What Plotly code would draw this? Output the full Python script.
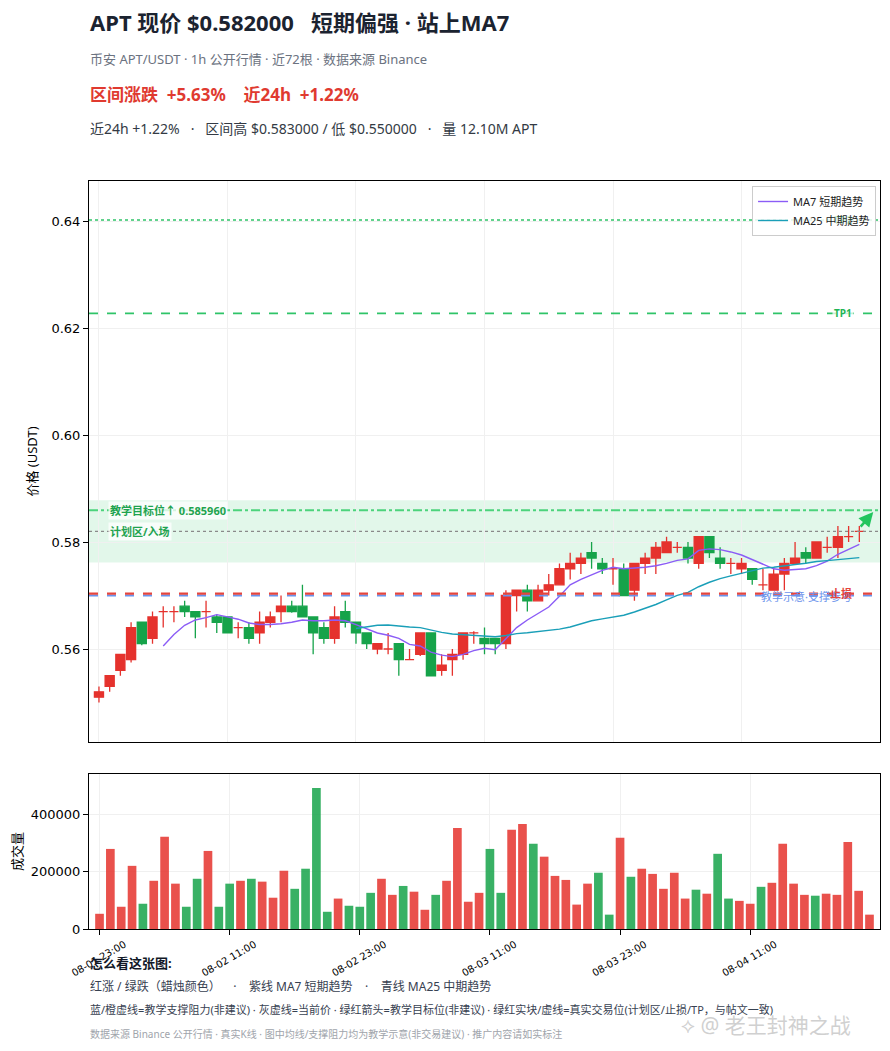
"""
APT/USDT 1h K线 + 成交量 (Plotly 复刻)
"""

import pandas as pd
import plotly.graph_objects as go

# ---- data (USDT) ----
start_time = "2025-08-01 23:00"

open_ = [0.551, 0.553, 0.556, 0.558, 0.565, 0.562, 0.567, 0.567, 0.568, 0.567,
         0.567, 0.566, 0.566, 0.564, 0.564, 0.563, 0.565, 0.567, 0.568, 0.568,
         0.566, 0.564, 0.562, 0.567, 0.565, 0.563, 0.560, 0.560, 0.561, 0.558,
         0.559, 0.563, 0.556, 0.558, 0.559, 0.563, 0.562, 0.562, 0.561, 0.570,
         0.571, 0.569, 0.571, 0.572, 0.575, 0.576, 0.578, 0.576, 0.575, 0.575,
         0.571, 0.576, 0.577, 0.578, 0.579, 0.579, 0.576, 0.581, 0.577, 0.576,
         0.575, 0.575, 0.572, 0.571, 0.574, 0.576, 0.578, 0.577, 0.579, 0.579,
         0.581, 0.582]

high_ = [0.553, 0.555, 0.559, 0.565, 0.565, 0.567, 0.568, 0.568, 0.569, 0.567,
         0.569, 0.5665, 0.566, 0.565, 0.565, 0.567, 0.567, 0.570, 0.569, 0.572,
         0.566, 0.565, 0.568, 0.569, 0.565, 0.563, 0.561, 0.563, 0.561, 0.560,
         0.563, 0.563, 0.559, 0.560, 0.563, 0.5633, 0.564, 0.562, 0.571, 0.571,
         0.572, 0.572, 0.574, 0.576, 0.578, 0.578, 0.580, 0.577, 0.577, 0.576,
         0.576, 0.578, 0.580, 0.581, 0.580, 0.580, 0.581, 0.581, 0.579, 0.577,
         0.577, 0.575, 0.575, 0.575, 0.577, 0.580, 0.579, 0.580, 0.581, 0.583,
         0.583, 0.583]

low_ = [0.550, 0.552, 0.555, 0.5575, 0.5607, 0.561, 0.564, 0.565, 0.566, 0.562,
        0.564, 0.563, 0.563, 0.562, 0.561, 0.561, 0.564, 0.565, 0.5668, 0.566,
        0.559, 0.561, 0.561, 0.564, 0.561, 0.560, 0.559, 0.559, 0.555, 0.558,
        0.5587, 0.555, 0.555, 0.555, 0.558, 0.561, 0.559, 0.559, 0.560, 0.567,
        0.567, 0.569, 0.570, 0.572, 0.573, 0.574, 0.575, 0.574, 0.572, 0.570,
        0.569, 0.574, 0.574, 0.578, 0.578, 0.576, 0.575, 0.577, 0.575, 0.574,
        0.574, 0.572, 0.571, 0.571, 0.571, 0.576, 0.576, 0.577, 0.578, 0.577,
        0.580, 0.580]

close_ = [0.552, 0.555, 0.559, 0.564, 0.561, 0.566, 0.567, 0.567, 0.567, 0.566,
          0.567, 0.565, 0.563, 0.564, 0.562, 0.565, 0.566, 0.568, 0.567, 0.566,
          0.563, 0.562, 0.566, 0.565, 0.563, 0.561, 0.561, 0.560, 0.558, 0.558,
          0.563, 0.555, 0.557, 0.559, 0.563, 0.563, 0.561, 0.561, 0.570, 0.571,
          0.569, 0.571, 0.572, 0.575, 0.576, 0.577, 0.577, 0.575, 0.575, 0.570,
          0.576, 0.577, 0.579, 0.580, 0.579, 0.577, 0.581, 0.578, 0.576, 0.576,
          0.576, 0.573, 0.572, 0.574, 0.576, 0.577, 0.577, 0.580, 0.579, 0.581,
          0.581, 0.582]

volume_ = [53000, 279000, 77500, 220000, 88000, 168000, 321000, 158000, 77500, 175000,
           272000, 77500, 158000, 168000, 175000, 165000, 109000, 203000, 140000, 210000,
           491000, 60000, 106000, 81000, 77500, 126000, 175000, 119000, 150000, 130000,
           67000, 119000, 168000, 352000, 95000, 126000, 279000, 126000, 346000, 366000,
           297000, 252000, 185000, 171000, 85000, 158000, 196000, 50000, 318000, 182000,
           210000, 192000, 140000, 196000, 106000, 137000, 123000, 262000, 106000, 98000,
           88000, 147000, 161000, 297000, 158000, 119000, 116000, 123000, 119000, 303000,
           133000, 50000]

# 价位 (计划区 ±1%, 止损 -2%, TP +7% / +10%)
price_now = 0.582
target_price = 0.585960
support_price = 0.5700
stop_price = 0.57036
zone_low, zone_high = 0.57618, 0.58782
tp1_price, tp2_price = 0.62274, 0.6402

price_ticks = [0.56, 0.58, 0.60, 0.62, 0.64]
volume_ticks = [0, 200000, 400000]

# ---- style ----
RED = "#e5322d"
GREEN = "#16a34a"
VOL_RED = "rgba(229,50,45,0.85)"
VOL_GREEN = "rgba(22,163,74,0.85)"
MA7_COLOR = "#8b5cf6"
MA25_COLOR = "#1a9fb8"
LINE_GREEN = "#2fc468"
CJK = "Noto Sans, Noto Sans CJK SC"
NUM = "DejaVu Sans"

df = pd.DataFrame({"open": open_, "high": high_, "low": low_,
                   "close": close_, "volume": volume_})
df["time"] = pd.date_range(start_time, periods=len(df), freq="h")
df["ma7"] = df["close"].rolling(7).mean()
df["ma25"] = df["close"].rolling(25).mean()
up = df[df["close"] >= df["open"]]
down = df[df["close"] < df["open"]]

tick_times = df["time"].iloc[::12]
tick_labels = [t.strftime("%m-%d %H:%M") for t in tick_times]

t0 = df["time"].iloc[0]
hour = pd.Timedelta(hours=1)
price_xrange = [t0 - 0.93 * hour, t0 + 72.93 * hour]
vol_xrange = [t0 - 0.97 * hour, t0 + 71.97 * hour]

# page geometry helpers (plot area on the page: x 89..880, y 181..929 px)
def py(y):
    return (929 - y) / 748


def px_(x):
    return (x - 89) / 791


fig = go.Figure()

# candles: red = up, green = down
for part, col in [(up, RED), (down, GREEN)]:
    fig.add_trace(go.Candlestick(
        x=part["time"], open=part["open"], high=part["high"],
        low=part["low"], close=part["close"],
        increasing=dict(line=dict(color=col, width=1.3), fillcolor=col),
        decreasing=dict(line=dict(color=col, width=1.3), fillcolor=col),
        whiskerwidth=0, showlegend=False, xaxis="x", yaxis="y",
    ))

fig.add_trace(go.Scatter(x=df["time"], y=df["ma7"], mode="lines",
                         line=dict(color=MA7_COLOR, width=1.4),
                         name="MA7 短期趋势", xaxis="x", yaxis="y"))
fig.add_trace(go.Scatter(x=df["time"], y=df["ma25"], mode="lines",
                         line=dict(color=MA25_COLOR, width=1.4),
                         name="MA25 中期趋势", xaxis="x", yaxis="y"))

vol_colors = [VOL_RED if c >= o else VOL_GREEN for o, c in zip(df["open"], df["close"])]
fig.add_trace(go.Bar(x=df["time"], y=df["volume"], marker=dict(color=vol_colors, line=dict(width=0)),
                     width=0.8 * 3600 * 1000, showlegend=False, xaxis="x2", yaxis="y2"))

# ---- levels ----
def hline(y, color, dash, width):
    fig.add_shape(type="line", xref="x domain", yref="y", x0=0, x1=1, y0=y, y1=y,
                  line=dict(color=color, dash=dash, width=width))


fig.add_shape(type="rect", xref="x domain", yref="y", x0=0, x1=1,
              y0=zone_low, y1=zone_high, fillcolor="rgba(34,197,94,0.13)",
              line=dict(width=0), layer="below")
hline(tp2_price, LINE_GREEN, "dot", 1.4)
hline(tp1_price, LINE_GREEN, "dash", 1.6)
hline(target_price, "#4cd37c", "dashdot", 2)
hline(price_now, "#8a8a8a", "dot", 1.2)
hline(support_price, "#6b93ec", "dash", 2.2)
hline(stop_price, "#e5453d", "dash", 2.2)

annotations = []


def label(x, y, text, color, xanchor="left", size=11, bold=True, bg="rgba(255,255,255,0.75)"):
    annotations.append(dict(
        xref="x domain", yref="y", x=x, y=y, text=f"<b>{text}</b>" if bold else text,
        showarrow=False, xanchor=xanchor, yanchor="middle",
        font=dict(family=CJK, size=size, color=color), bgcolor=bg, borderpad=1))


label(0.024, target_price, "教学目标位↑ 0.585960", "#1fa34f")
label(0.024, price_now - 0.0001, "计划区/入场", "#1fa34f")
label(0.967, tp1_price, "TP1", "#22b455", xanchor="right", size=10)
# TP2 sits under the legend box, so it only shows faintly
label(0.967, tp2_price, "TP2", "rgba(34,180,85,0.22)", xanchor="right", size=10, bg=None)
label(0.967, support_price - 0.0002, "教学示意·支撑参考", "#6b93ec", xanchor="right", bold=False, bg=None)
label(0.967, stop_price + 0.0001, "止损", "#e5453d", xanchor="right", bg=None)

# teaching target arrow
last_t = df["time"].iloc[-1]
annotations.append(dict(
    xref="x", yref="y", axref="x", ayref="y",
    x=last_t + 1.3 * hour, y=0.5856, ax=last_t, ay=0.5826,
    showarrow=True, arrowhead=2, arrowsize=1.1, arrowwidth=2.6, arrowcolor="#22c55e", text=""))

# ---- header ----
def page_text(x, y, text, size, color, bold=False):
    annotations.append(dict(
        xref="paper", yref="paper", x=px_(x), y=py(y), xanchor="left", yanchor="middle",
        text=f"<b>{text}</b>" if bold else text, showarrow=False, borderpad=0,
        font=dict(family=CJK, size=size, color=color)))


page_text(89, 22, "APT 现价 $0.582000   短期偏强 · 站上MA7", 22, "#1b2330", bold=True)
page_text(89, 59, "币安 APT/USDT · 1h 公开行情 · 近72根 · 数据来源 Binance", 13, "#6b7280")
page_text(89, 95, "区间涨跌  +5.63%    近24h  +1.22%", 17, "#e03a30", bold=True)
page_text(89, 128, "近24h +1.22%   ·   区间高 $0.583000 / 低 $0.550000   ·   量 12.10M APT", 14, "#333a44")

# ---- footer ----
page_text(89, 963, "怎么看这张图:", 13, "#111827", bold=True)
page_text(89, 986, "红涨 / 绿跌（蜡烛颜色）    ·    紫线 MA7 短期趋势    ·    青线 MA25 中期趋势", 12, "#374151")
page_text(89, 1009, "蓝/橙虚线=教学支撑阻力(非建议) · 灰虚线=当前价 · 绿红箭头=教学目标位(非建议) · "
                    "绿红实块/虚线=真实交易位(计划区/止损/TP，与帖文一致)", 11, "#374151")
page_text(89, 1034, "数据来源 Binance 公开行情 · 真实K线 · 图中均线/支撑阻力均为教学示意(非交易建议) · 推广内容请如实标注",
          10, "#a0a4ab")
page_text(680, 1025, "⟡ @ 老王封神之战", 21, "rgba(200,200,200,0.85)")

axis_common = dict(showline=True, linecolor="black", linewidth=1, mirror=True,
                   gridcolor="#f0f0f0", gridwidth=1, zeroline=False,
                   tickfont=dict(family=NUM, size=13, color="black"))

# page body has an 8px margin: figure is 874x1035, plot area lands at x 89..880, y 181..929
fig.update_layout(
    width=874, height=1035,
    margin=dict(l=81, r=2, t=173, b=114),
    paper_bgcolor="white", plot_bgcolor="white",
    boxgap=0.15, boxgroupgap=0,
    xaxis=dict(domain=[0, 1], anchor="y", type="date", range=price_xrange,
               rangeslider=dict(visible=False), tickvals=tick_times,
               showticklabels=False, **axis_common),
    yaxis=dict(domain=[0.25, 1], anchor="x", range=[0.54262, 0.64748],
               tickvals=price_ticks, ticktext=[f"{v:.2f}" for v in price_ticks],
               ticks="outside", ticklen=5, tickcolor="black",
               title=dict(text="价格 (USDT)", font=dict(family=CJK, size=13, color="black"), standoff=10),
               **axis_common),
    xaxis2=dict(domain=[0, 1], anchor="y2", type="date", range=vol_xrange,
                tickvals=tick_times, ticktext=tick_labels, tickangle=-30,
                ticks="outside", ticklen=5, tickcolor="black", ticklabelshift=25,
                **{**axis_common, "tickfont": dict(family=NUM, size=10, color="black")}),
    yaxis2=dict(domain=[0, 0.2072], anchor="x2", range=[0, 540000],
                tickvals=volume_ticks, tickformat="d",
                ticks="outside", ticklen=5, tickcolor="black",
                title=dict(text="成交量", font=dict(family=CJK, size=13, color="black"), standoff=6),
                **axis_common),
    legend=dict(x=0.995, y=py(186), xanchor="right", yanchor="top",
                bgcolor="rgba(255,255,255,0.85)", bordercolor="#cccccc", borderwidth=1,
                font=dict(family=CJK, size=11, color="#222"), itemwidth=30,
                tracegroupgap=0),
    annotations=annotations,
    hovermode="x",
)

fig.write_html("out.html")
print("saved out.html")
